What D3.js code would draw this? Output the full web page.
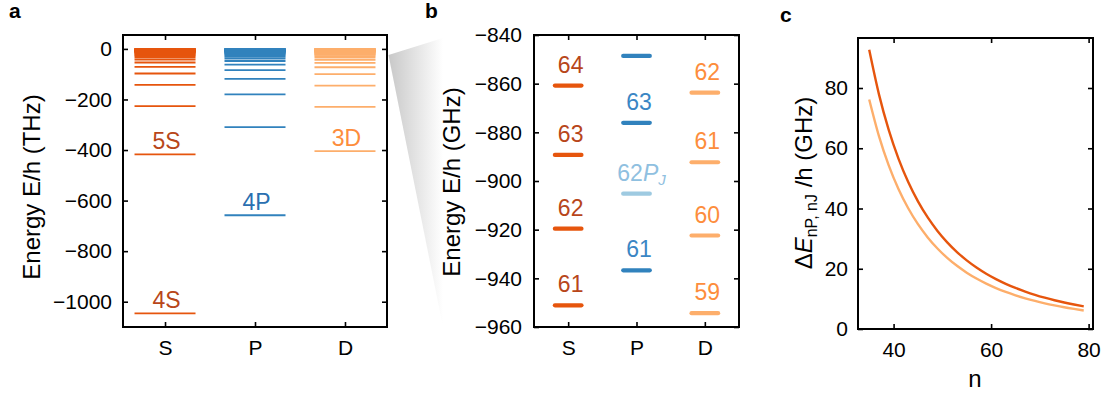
<!DOCTYPE html>
<html><head><meta charset="utf-8">
<script src="https://cdn.jsdelivr.net/npm/d3@7"></script>
<style>
body{margin:0;background:#fff;}
svg text{font-family:"Liberation Sans",Arial,Helvetica,sans-serif;}
</style></head>
<body><svg id="c" width="1106" height="394"></svg>
<script>
// ---------- data ----------
const categories = ["S", "P", "D"];
// panel a: energy levels (THz)
const levelsS = [-1046, -417, -226.6, -142, -97.3, -70.8, -53.8, -42.3, -34.1, -28.1, -23.5, -20.0, -17.2, -15.0, -13.1, -11.6, -10.4, -9.29, -8.37, -7.59, -6.91, -6.32, -5.80, -5.34, -4.93, -4.57, -4.25, -3.05, -2.30, -1.44, -0.98, -0.54, -0.34];
const levelsP = [-658, -309.5, -180.2, -118.6, -84.0, -61.9, -47.9, -38.1, -31.1, -25.8, -21.8, -18.6, -16.1, -14.1, -12.4, -11.0, -9.8, -8.84, -7.99, -7.26, -6.62, -6.07, -5.58, -5.14, -4.76, -4.42, -4.11, -2.9, -2.2, -1.4, -0.95, -0.53, -0.33];
const levelsD = [-404, -229, -145, -99.6, -72.5, -55.2, -43.3, -34.8, -28.6, -23.9, -20.3, -17.5, -15.2, -13.3, -11.8, -10.5, -9.4, -8.46, -7.66, -6.97, -6.37, -5.85, -5.38, -4.97, -4.61, -4.28, -3.99, -3.72, -2.7, -2.1, -1.35, -0.92, -0.52, -0.33];
const labelsA = [
  {cat: "S", value: -1046, text: "4S"},
  {cat: "S", value: -417, text: "5S"},
  {cat: "P", value: -658, text: "4P"},
  {cat: "D", value: -404, text: "3D"}
];
const ticksA = [-1000, -800, -600, -400, -200, 0];

// panel b: levels near n ~ 62 (GHz)
const bS_n = [64, 63, 62, 61];
const bS_E = [-860.8, -889.3, -919.6, -951.1];
const bP_n = [64, 63, 62, 61];
const bP_E = [-848.6, -876.1, -905.2, -936.7];
const bP_label = [false, true, "J", true];
const bD_n = [62, 61, 60, 59];
const bD_E = [-863.7, -892.3, -922.4, -954.3];
const ticksB = [-960, -940, -920, -900, -880, -860, -840];

// panel c: splitting vs n (GHz)
const cN = [35, 37, 39, 41, 43, 45, 47, 49, 51, 53, 55, 57, 59, 61, 63, 65, 67, 69, 71, 73, 75, 77, 79];
const cS = [92.66, 77.88, 66.09, 56.56, 48.78, 42.37, 37.03, 32.55, 28.77, 25.55, 22.79, 20.42, 18.36, 16.57, 15.01, 13.64, 12.43, 11.35, 10.40, 9.55, 8.80, 8.12, 7.50];
const cD = [76.18, 64.01, 54.31, 46.47, 40.07, 34.80, 30.41, 26.73, 23.62, 20.97, 18.71, 16.76, 15.07, 13.60, 12.31, 11.19, 10.19, 9.31, 8.53, 7.84, 7.21, 6.66, 6.15];
const ticksCy = [0, 20, 40, 60, 80];
const ticksCx = [40, 60, 80];

// ---------- styles ----------
const lineCol = {S: "#e6550d", P: "#3182bd", D: "#fdae6b"};
const textCol = {S: "#b8461a", P: "#2a6fb0", D: "#fd8d3c"};
const pjLine = "#9ecae1", pjText = "#8fc0e0";
const FS = 21, LFS = 23, TFS = 24;
const fmt = d3.format("d");

const svg = d3.select("#c");

// gradient wedge
const defs = svg.append("defs");
const grad = defs.append("linearGradient").attr("id", "wg").attr("x1", "0").attr("x2", "1").attr("y1", "0").attr("y2", "0");
grad.append("stop").attr("offset", "0").attr("stop-color", "#c8c8c8");
grad.append("stop").attr("offset", "1").attr("stop-color", "#ffffff");

function frame(x0, x1, y0, y1) {
  svg.append("rect").attr("x", x0).attr("y", y0).attr("width", x1 - x0).attr("height", y1 - y0)
    .attr("fill", "none").attr("stroke", "#000").attr("stroke-width", 2);
}
function styleAxis(g, labels) {
  g.select(".domain").remove();
  g.selectAll(".tick line").attr("stroke", "#000").attr("stroke-width", 1.6);
  g.selectAll(".tick text").attr("font-size", FS).attr("fill", "#000")
    .style("font-family", "'Liberation Sans',Arial,sans-serif");
  if (!labels) g.selectAll(".tick text").remove();
}
function axes(x, y, xTicks, yTicks, padX, padY) {
  const [x0, x1] = x.range(), [y1, y0] = y.range();
  const bx = d3.axisBottom(x).tickSize(-5).tickPadding(padX);
  const tx = d3.axisTop(x).tickSize(-5);
  const ly = d3.axisLeft(y).tickSize(-5).tickPadding(padY).tickFormat(fmt);
  const ry = d3.axisRight(y).tickSize(-5);
  if (xTicks) { bx.tickValues(xTicks).tickFormat(fmt); tx.tickValues(xTicks); }
  if (yTicks) { ly.tickValues(yTicks); ry.tickValues(yTicks); }
  styleAxis(svg.append("g").attr("transform", `translate(0,${y1})`).call(bx), true);
  styleAxis(svg.append("g").attr("transform", `translate(0,${y0})`).call(tx), false);
  styleAxis(svg.append("g").attr("transform", `translate(${x0},0)`).call(ly), true);
  styleAxis(svg.append("g").attr("transform", `translate(${x1},0)`).call(ry), false);
}
function ytitle(x, y, text) {
  return svg.append("text").attr("transform", `translate(${x},${y}) rotate(-90)`)
    .attr("text-anchor", "middle").attr("font-size", TFS).attr("fill", "#000").text(text);
}
function letter(x, y, t) {
  svg.append("text").attr("x", x).attr("y", y).attr("font-size", 21).attr("font-weight", "bold").text(t);
}

// ---------- panel a ----------
const xA = d3.scalePoint().domain(categories).range([123, 387]).padding(0.467);
const yA = d3.scaleLinear().domain([-1100, 55]).range([327, 35]);
const halfA = 30.5;
const gA = svg.append("g");
[["S", levelsS], ["P", levelsP], ["D", levelsD]].forEach(([c, arr]) => {
  gA.selectAll(null).data(arr).enter().append("line")
    .attr("x1", xA(c) - halfA).attr("x2", xA(c) + halfA)
    .attr("y1", d => yA(d)).attr("y2", d => yA(d))
    .attr("stroke", lineCol[c]).attr("stroke-width", 1.8);
});
gA.selectAll(null).data(labelsA).enter().append("text")
  .attr("x", d => xA(d.cat) + 1.5).attr("y", d => yA(d.value) - 5)
  .attr("text-anchor", "middle").attr("font-size", LFS).attr("fill", d => textCol[d.cat])
  .text(d => d.text);
axes(xA, yA, null, ticksA, 13, 11);
frame(123, 387, 35, 327);
ytitle(40, 187, "Energy E/h (THz)");
letter(9, 18, "a");

// wedge
svg.append("polygon").attr("points", [[388.5, 55], [443, 38], [443, 327]].map(p => p.join(",")).join(" "))
  .attr("fill", "url(#wg)");

// ---------- panel b ----------
const xB = d3.scalePoint().domain(categories).range([534, 739]).padding(0.5);
const yB = d3.scaleLinear().domain([-960, -840]).range([327, 35]);
const halfB = 13.3;
const gB = svg.append("g");
function bLevels(cat, ns, es, colFn, txtFn, showFn) {
  const data = ns.map((n, i) => ({n, e: es[i], i}));
  gB.selectAll(null).data(data).enter().append("line")
    .attr("x1", xB(cat) - halfB).attr("x2", xB(cat) + halfB)
    .attr("y1", d => yB(d.e)).attr("y2", d => yB(d.e))
    .attr("stroke", d => colFn(d)).attr("stroke-width", 4.2).attr("stroke-linecap", "round");
  const lab = gB.selectAll(null).data(data.filter(showFn)).enter().append("text")
    .attr("x", xB(cat) + 2.5).attr("y", d => yB(d.e) - 13)
    .attr("text-anchor", "middle").attr("font-size", LFS).attr("fill", d => txtFn(d));
  return lab;
}
bLevels("S", bS_n, bS_E, () => lineCol.S, () => textCol.S, () => true).text(d => d.n);
const labP = bLevels("P", bP_n, bP_E, d => bP_label[d.i] === "J" ? pjLine : lineCol.P,
  d => bP_label[d.i] === "J" ? pjText : "#3a86c4", d => bP_label[d.i] !== false);
labP.each(function(d) {
  const t = d3.select(this);
  t.append("tspan").text(d.n);
  if (bP_label[d.i] === "J") {
    t.attr("x", xB("P") + 5);
    t.append("tspan").attr("font-style", "italic").text("P");
    t.append("tspan").attr("font-style", "italic").attr("font-size", 15).attr("dy", 4).text("J");
  }
});
bLevels("D", bD_n, bD_E, () => lineCol.D, () => textCol.D, () => true).text(d => d.n);
axes(xB, yB, null, ticksB, 13, 12);
frame(534, 739, 35, 327);
ytitle(460, 182, "Energy E/h (GHz)");
letter(425, 18, "b");

// ---------- panel c ----------
const xC = d3.scaleLinear().domain([32.7, 80.9]).range([858, 1093]);
const yC = d3.scaleLinear().domain([0, 96.6]).range([329, 38]);
const line = d3.line().curve(d3.curveMonotoneX);
svg.append("path").attr("d", line(cN.map((n, i) => [xC(n), yC(cD[i])])))
  .attr("fill", "none").attr("stroke", lineCol.D).attr("stroke-width", 2.4);
svg.append("path").attr("d", line(cN.map((n, i) => [xC(n), yC(cS[i])])))
  .attr("fill", "none").attr("stroke", lineCol.S).attr("stroke-width", 2.4);
axes(xC, yC, ticksCx, ticksCy, 13, 10);
frame(858, 1093, 38, 329);
const tc = svg.append("text").attr("transform", `translate(812,183) rotate(-90)`)
  .attr("text-anchor", "middle").attr("font-size", TFS).attr("fill", "#000");
tc.append("tspan").text("Δ");
tc.append("tspan").attr("font-style", "italic").text("E");
tc.append("tspan").attr("font-size", 16).attr("dy", 5).text("nP, nJ");
tc.append("tspan").attr("dy", -5).text(" /h (GHz)");
svg.append("text").attr("x", 975).attr("y", 387).attr("text-anchor", "middle")
  .attr("font-size", TFS).text("n");
letter(780, 22, "c");
</script></body></html>
